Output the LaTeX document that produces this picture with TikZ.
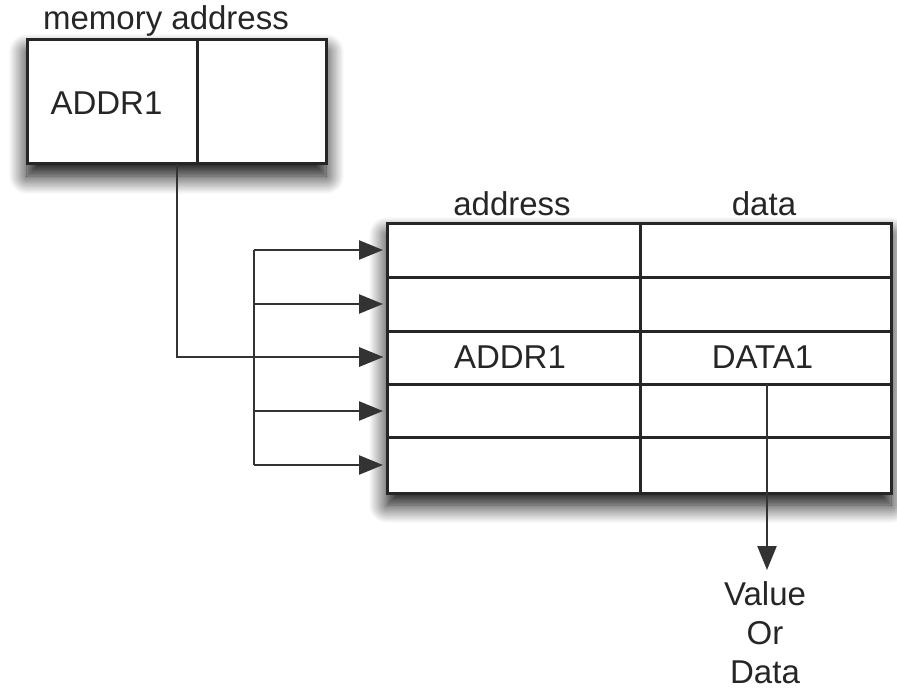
\documentclass[tikz,border=0pt]{standalone}
\usepackage{fontspec}
\setmainfont{Liberation Sans}
\usetikzlibrary{arrows.meta,shadows.blur}

\tikzset{
  boxline/.style={line width=3pt, draw=black!85},
  cellbox/.style={boxline, fill=white, inner sep=0pt,
    blur shadow={shadow xshift=0pt, shadow yshift=-12pt,
                 shadow blur radius=18pt, shadow blur steps=14, shadow opacity=100}},
  lbl/.style={font=\fontsize{33}{39}\selectfont, inner sep=0pt, text=black!85},
  busline/.style={line width=2.4pt, draw=black!80},
  arr/.style={line width=2.4pt, draw=black!80, -{Triangle[length=24pt,width=19pt]}},
}

\begin{document}
\begin{tikzpicture}[x=1pt,y=-1pt]
\useasboundingbox (0,0) rectangle (897,690);

% pointer cell holding the address
\node[lbl, anchor=base] (memlbl) at (166,30) {memory address};
\node[cellbox, minimum width=299pt, minimum height=124pt] (mem) at (176.5,102) {};
\draw[boxline] (197,40) -- (197,164);
\node[lbl, anchor=base] (memaddr) at (106.5,115) {ADDR1};

% memory table: address | data
\node[cellbox, minimum width=504pt, minimum height=270pt] (tbl) at (639,358) {};
\foreach \yy in {277,331,384,437}
  \draw[boxline] (387,\yy) -- (891,\yy);
\draw[boxline] (640,223) -- (640,493);
\node[lbl, anchor=base] (hdraddr) at (512,215) {address};
\node[lbl, anchor=base] (hdrdata) at (764,215) {data};
\node[lbl, anchor=base] (celladdr) at (510,368) {ADDR1};
\node[lbl, anchor=base] (celldata) at (762.5,368) {DATA1};

% row entry points on the table's left edge
\coordinate (r1) at (387,250);
\coordinate (r2) at (387,304);
\coordinate (r3) at (387,357);
\coordinate (r4) at (387,411);
\coordinate (r5) at (387,465);

% selection bus
\coordinate (bus1) at (254,250);
\coordinate (bus2) at (254,304);
\coordinate (bus3) at (254,357);
\coordinate (bus4) at (254,411);
\coordinate (bus5) at (254,465);
\draw[busline] (bus1) -- (bus5);
\foreach \k in {1,...,5}
  \draw[arr, shorten >=4pt] (bus\k) -- (r\k);

% pointer to the matching row
\coordinate (memout) at (177,164);
\draw[arr, shorten >=4pt] (memout) |- (r3);

% result read out of the data column
\node[lbl, anchor=north, align=center] (val) at (765,581) {Value\\Or\\Data};
\coordinate (dout) at (767,384);
\draw[arr, shorten >=11pt] (dout) -- (dout |- val.north);
\end{tikzpicture}
\end{document}
